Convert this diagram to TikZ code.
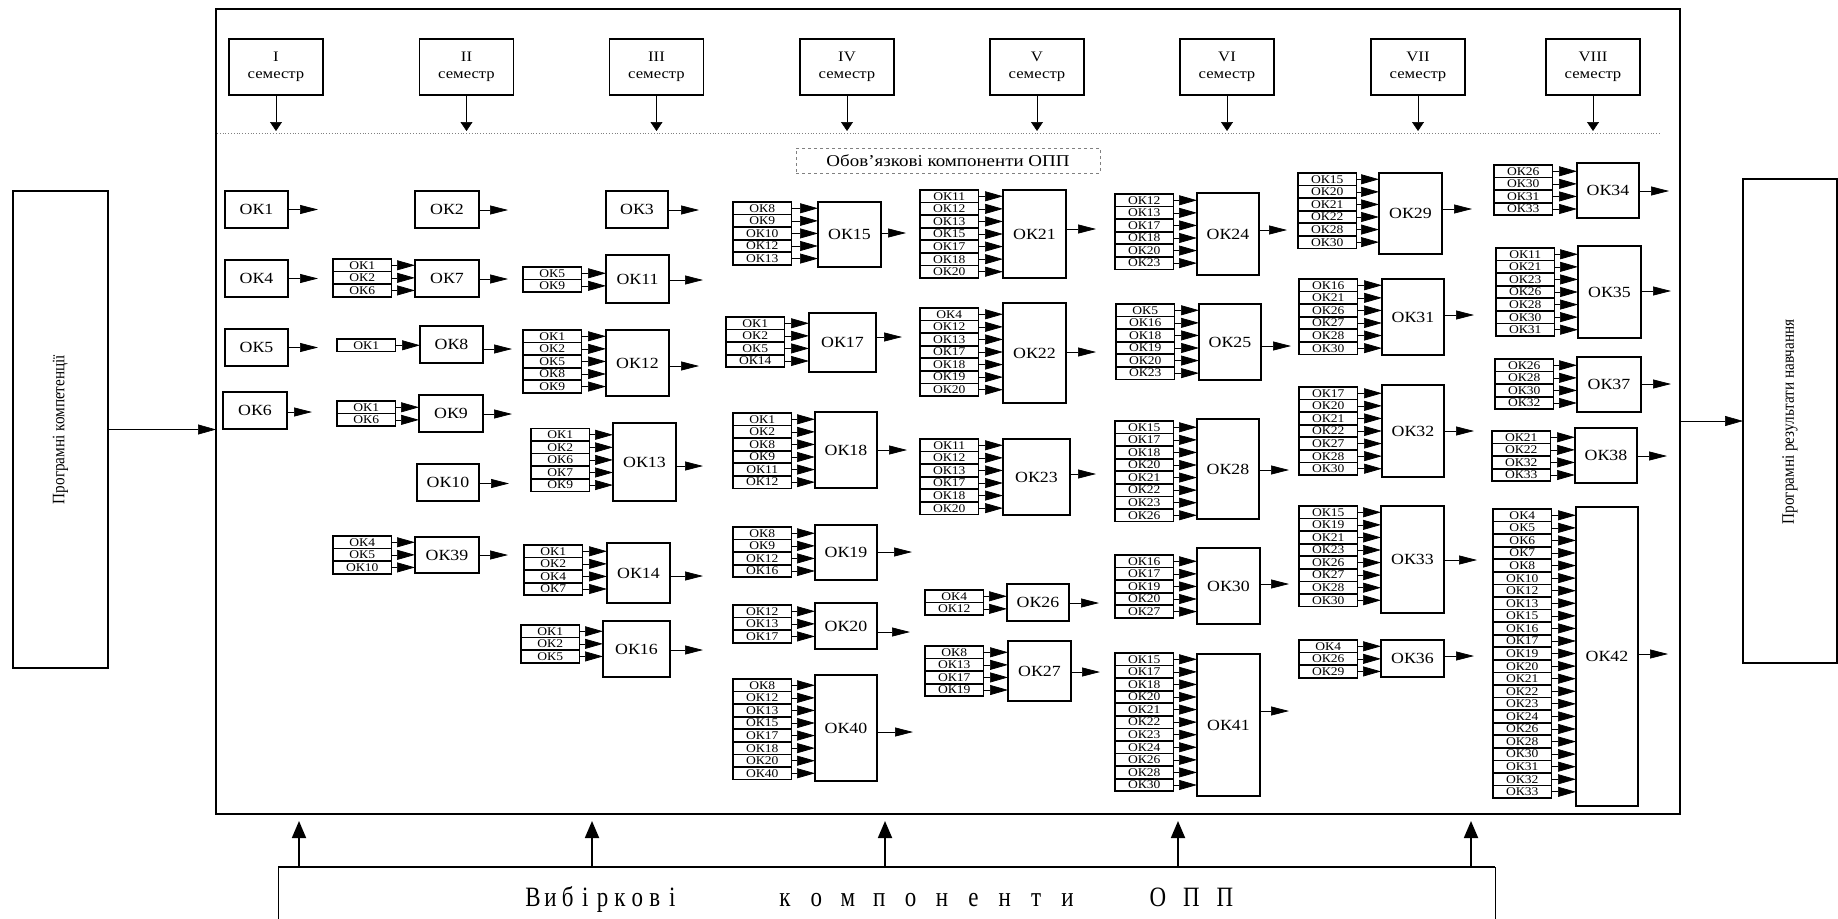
\documentclass[tikz,border=0pt]{standalone}
\usepackage{fontspec}
\usepackage{graphicx}
\setmainfont{Liberation Serif}
\newfontfamily\okfont[FakeStretch=1.15]{Liberation Serif}
\usetikzlibrary{arrows.meta}
\newcommand{\bigok}{\okfont\fontsize{15.5}{16}\selectfont}
\newcommand{\smallok}{\okfont\fontsize{11.8}{12}\selectfont}
\newcommand{\semfont}{\okfont\fontsize{14.5}{17}\selectfont}
\newcommand{\botfont}{\fontsize{28}{28}\selectfont}
\def\rowh{12.57}
\tikzset{
  mainbox/.style={draw, line width=1.4pt, inner sep=0pt, outer sep=0pt, font=\bigok},
  inbox/.style={draw, line width=1.7pt, inner sep=0pt, outer sep=0pt, minimum width=58.5pt, minimum height=\rowh pt, font=\smallok},
  sembox/.style={draw, line width=1.5pt, inner sep=0pt, outer sep=0pt, minimum width=94pt, minimum height=56pt, align=center, font=\semfont},
  inarr/.style={line width=0.7pt, -{Triangle[length=18pt,width=10pt]}},
  outarr/.style={line width=0.7pt, -{Triangle[length=18pt,width=9pt]}},
  semarr/.style={line width=0.6pt, -{Triangle[length=9pt,width=12pt]}},
  bigarr/.style={line width=0.6pt, -{Triangle[length=18pt,width=10pt]}},
  botarr/.style={line width=1.8pt, -{Triangle[length=17pt,width=14pt]}},
  botletter/.style={anchor=base, inner sep=0pt, font=\botfont},
}
% box: name, label, left, top, right, bottom, tip x, out y
\newcommand{\okg}[8]{%
  \node[mainbox, anchor=north west, minimum width={#5-#3}, minimum height={#6-#4}] (#1) at (#3,#4) {#2};
  \coordinate (#1out) at (#7,#8);
  \draw[outarr] (#1.east |- #1out) -- (#1out);
}
% inputs: target name, stack left, stack top, list
\newcommand{\oki}[4]{%
  \foreach \lab [count=\i] in {#4} {
    \node[inbox, anchor=north west] (#1i\i) at (#2, {#3+(\i-1)*\rowh}) {\lab};
    \draw[inarr] (#1i\i.east) -- (#1.west |- #1i\i.east);
  }
}
\begin{document}
\begin{tikzpicture}[x=1pt, y=-1pt]
\useasboundingbox (0,0) rectangle (1838,918);

% main frame
\node[draw, line width=2.6pt, inner sep=0pt, outer sep=0pt, anchor=north west, minimum width=1464pt, minimum height=805pt] (frame) at (216,9) {};

% semester boxes
\foreach \n/\xx/\r in {1/276/I, 2/466.5/II, 3/656.5/III, 4/847/IV, 5/1037/V, 6/1227/VI, 7/1418/VII, 8/1593/VIII} {
  \node[sembox] (s\n) at (\xx,67) {\r\\семестр};
  \coordinate (st\n) at (\xx,131);
  \draw[semarr] (s\n) -- (st\n);
}
\coordinate (dl1) at (217,133.5);
\coordinate (dl2) at (1661,133.5);
\draw[gray, dotted, line width=0.8pt] (dl1) -- (dl2);

\node[draw=gray, dashed, line width=0.7pt, minimum width=304pt, minimum height=25pt, inner sep=0pt, font=\okfont\fontsize{16.5}{16}\selectfont] (obk) at (948,160.5) {Обов’язкові компоненти ОПП};

% left and right boxes
\node[draw, line width=1.5pt, inner sep=0pt, outer sep=0pt, anchor=north west, minimum width=95pt, minimum height=477pt] (pk) at (13,191) {};
\node[rotate=90, font=\fontsize{17.5}{17}\selectfont] at (pk.center) {\scalebox{0.87}[1]{Програмні компетенції}};
\draw[bigarr] (pk.east) -- (frame.west |- pk.east);

\node[draw, line width=1.5pt, inner sep=0pt, outer sep=0pt, anchor=north west, minimum width=94pt, minimum height=484pt] (pr) at (1743,179) {};
\node[rotate=90, font=\fontsize{17.5}{17}\selectfont] at (1790,422) {\scalebox{0.87}[1]{Програмні результати навчання}};
\draw[bigarr] (frame.east |- pr.west) -- (pr.west);

% bottom box
\node[inner sep=0pt, outer sep=0pt, anchor=north west, minimum width=1217pt, minimum height=60pt] (vk) at (278,867) {};
\draw[line width=2.6pt] (vk.north west) -- (vk.north east);
\draw[line width=1pt] (vk.north west) -- (vk.south west);
\draw[line width=1pt] (vk.north east) -- (vk.south east);
\foreach \x in {299,592,885,1178,1471} {
  \coordinate (b\x) at (\x,821);
  \draw[botarr] (b\x |- vk.north) -- (b\x);
}
\foreach \ch [count=\i] in {В,и,б,і,р,к,о,в,і}
  \node[botletter] (wa\i) at ({533+(\i-1)*17.4},906) {\scalebox{0.82}[1]{\ch}};
\foreach \ch [count=\i] in {к,о,м,п,о,н,е,н,т,и}
  \node[botletter] (wb\i) at ({785+(\i-1)*31.4},906) {\scalebox{0.82}[1]{\ch}};
\foreach \ch [count=\i] in {О,П,П}
  \node[botletter] (wc\i) at ({1158+(\i-1)*33.5},906) {\scalebox{0.82}[1]{\ch}};

% column I
\okg{k1}{ОК1}{225}{191}{288}{228}{318}{209.5}
\okg{k4}{ОК4}{225}{260}{288}{297}{318}{278.5}
\okg{k5}{ОК5}{225}{329}{288}{366}{318}{347.5}
\okg{k6}{ОК6}{223}{392}{287}{429}{312}{412}

% column II
\okg{k2}{ОК2}{415}{191}{479}{228}{508}{210}
\okg{k7}{ОК7}{415}{260}{479}{297}{508}{279}
\oki{k7}{333}{259}{ОК1,ОК2,ОК6}
\okg{k8}{ОК8}{420}{326}{483}{363}{512}{349}
\oki{k8}{337}{339}{ОК1}
\okg{k9}{ОК9}{419}{395}{483}{432}{512}{414}
\oki{k9}{337}{401}{ОК1,ОК6}
\okg{k10}{ОК10}{417}{464}{479}{501}{509}{483.5}
\okg{k39}{ОК39}{415}{537}{479}{573}{508}{555}
\oki{k39}{333}{536}{ОК4,ОК5,ОК10}

% column III
\okg{k3}{ОК3}{606}{191}{668}{228}{699}{210}
\okg{k11}{ОК11}{606}{255}{669}{303}{703}{280}
\oki{k11}{523}{267}{ОК5,ОК9}
\okg{k12}{ОК12}{606}{330}{669}{396}{699}{366}
\oki{k12}{523}{330}{ОК1,ОК2,ОК5,ОК8,ОК9}
\okg{k13}{ОК13}{613}{423}{676}{501}{703}{466}
\oki{k13}{531}{428.5}{ОК1,ОК2,ОК6,ОК7,ОК9}
\okg{k14}{ОК14}{607}{543}{670}{603}{703}{576}
\oki{k14}{524}{545}{ОК1,ОК2,ОК4,ОК7}
\okg{k16}{ОК16}{603}{621}{670}{677}{703}{650}
\oki{k16}{521}{625}{ОК1,ОК2,ОК5}

% column IV
\okg{k15}{ОК15}{818}{202}{881}{267}{906}{233}
\oki{k15}{733}{202}{ОК8,ОК9,ОК10,ОК12,ОК13}
\okg{k17}{ОК17}{809}{313}{876}{372}{902}{337}
\oki{k17}{726}{317}{ОК1,ОК2,ОК5,ОК14}
\okg{k18}{ОК18}{815}{412}{877}{488}{907}{450}
\oki{k18}{733}{413}{ОК1,ОК2,ОК8,ОК9,ОК11,ОК12}
\okg{k19}{ОК19}{815}{525}{877}{580}{912}{552}
\oki{k19}{733}{527}{ОК8,ОК9,ОК12,ОК16}
\okg{k20}{ОК20}{815}{603}{877}{649}{910}{632}
\oki{k20}{733}{605}{ОК12,ОК13,ОК17}
\okg{k40}{ОК40}{815}{675}{877}{781}{913}{732}
\oki{k40}{733}{679}{ОК8,ОК12,ОК13,ОК15,ОК17,ОК18,ОК20,ОК40}

% column V
\okg{k21}{ОК21}{1003}{190}{1066}{278}{1096}{229}
\oki{k21}{920}{190}{ОК11,ОК12,ОК13,ОК15,ОК17,ОК18,ОК20}
\okg{k22}{ОК22}{1003}{303}{1066}{403}{1096}{352}
\oki{k22}{920}{308}{ОК4,ОК12,ОК13,ОК17,ОК18,ОК19,ОК20}
\okg{k23}{ОК23}{1003}{439}{1070}{515}{1096}{474}
\oki{k23}{920}{439}{ОК11,ОК12,ОК13,ОК17,ОК18,ОК20}
\okg{k26}{ОК26}{1007}{584}{1069}{621}{1099}{603}
\oki{k26}{925}{590}{ОК4,ОК12}
\okg{k27}{ОК27}{1008}{641}{1071}{701}{1100}{672}
\oki{k27}{925}{646}{ОК8,ОК13,ОК17,ОК19}

% column VI
\okg{k24}{ОК24}{1197}{193}{1259}{275}{1287}{230}
\oki{k24}{1115}{194}{ОК12,ОК13,ОК17,ОК18,ОК20,ОК23}
\okg{k25}{ОК25}{1199}{304}{1261}{380}{1291}{346}
\oki{k25}{1116}{304}{ОК5,ОК16,ОК18,ОК19,ОК20,ОК23}
\okg{k28}{ОК28}{1197}{419}{1259}{519}{1289}{470}
\oki{k28}{1115}{421}{ОК15,ОК17,ОК18,ОК20,ОК21,ОК22,ОК23,ОК26}
\okg{k30}{ОК30}{1197}{548}{1260}{624}{1289}{584}
\oki{k30}{1115}{555}{ОК16,ОК17,ОК19,ОК20,ОК27}
\okg{k41}{ОК41}{1197}{654}{1260}{796}{1289}{711}
\oki{k41}{1115}{653}{ОК15,ОК17,ОК18,ОК20,ОК21,ОК22,ОК23,ОК24,ОК26,ОК28,ОК30}

% column VII
\okg{k29}{ОК29}{1379}{173}{1442}{254}{1472}{209}
\oki{k29}{1298}{173}{ОК15,ОК20,ОК21,ОК22,ОК28,ОК30}
\okg{k31}{ОК31}{1382}{279}{1444}{355}{1474}{315}
\oki{k31}{1299}{279}{ОК16,ОК21,ОК26,ОК27,ОК28,ОК30}
\okg{k32}{ОК32}{1382}{385}{1444}{477}{1474}{431}
\oki{k32}{1299}{387}{ОК17,ОК20,ОК21,ОК22,ОК27,ОК28,ОК30}
\okg{k33}{ОК33}{1381}{506}{1444}{613}{1477}{560}
\oki{k33}{1299}{506}{ОК15,ОК19,ОК21,ОК23,ОК26,ОК27,ОК28,ОК30}
\okg{k36}{ОК36}{1381}{640}{1444}{677}{1474}{656}
\oki{k36}{1299}{640}{ОК4,ОК26,ОК29}

% column VIII
\okg{k34}{ОК34}{1577}{163}{1639}{218}{1669}{191}
\oki{k34}{1494}{165}{ОК26,ОК30,ОК31,ОК33}
\okg{k35}{ОК35}{1578}{246}{1641}{338}{1671}{291}
\oki{k35}{1496}{248}{ОК11,ОК21,ОК23,ОК26,ОК28,ОК30,ОК31}
\okg{k37}{ОК37}{1577}{357}{1641}{412}{1671}{384}
\oki{k37}{1495}{359}{ОК26,ОК28,ОК30,ОК32}
\okg{k38}{ОК38}{1575}{428}{1637}{483}{1667}{456}
\oki{k38}{1492}{431}{ОК21,ОК22,ОК32,ОК33}
\okg{k42}{ОК42}{1576}{507}{1638}{806}{1668}{654}
\oki{k42}{1493}{509}{ОК4,ОК5,ОК6,ОК7,ОК8,ОК10,ОК12,ОК13,ОК15,ОК16,ОК17,ОК19,ОК20,ОК21,ОК22,ОК23,ОК24,ОК26,ОК28,ОК30,ОК31,ОК32,ОК33}
\end{tikzpicture}
\end{document}
